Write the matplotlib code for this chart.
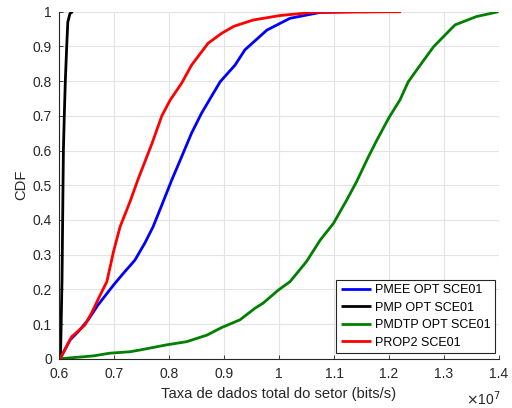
import numpy as np
import matplotlib
matplotlib.use('Agg')
import matplotlib.pyplot as plt

# Sector data rate in units of 1e7 bits/s, and CDF values
pmee_x = [0.602, 0.620, 0.635, 0.653, 0.671, 0.699, 0.717, 0.738, 0.756, 0.771,
          0.787, 0.805, 0.823, 0.841, 0.859, 0.875, 0.893, 0.920, 0.938, 0.978,
          1.020, 1.075, 1.132]
pmee_y = [0.0, 0.054, 0.078, 0.112, 0.155, 0.212, 0.246, 0.284, 0.333, 0.380,
          0.443, 0.515, 0.582, 0.650, 0.707, 0.750, 0.798, 0.846, 0.890, 0.947,
          0.981, 0.998, 1.0]

pmp_x = [0.6027, 0.6055, 0.6073, 0.6080, 0.6096, 0.6115, 0.6140, 0.6160,
         0.6200, 0.6250]
pmp_y = [0.0, 0.23, 0.50, 0.60, 0.70, 0.80, 0.90, 0.97, 0.995, 1.0]

pmdtp_x = [0.602, 0.662, 0.693, 0.729, 0.747, 0.796, 0.832, 0.869, 0.896, 0.929,
           0.956, 0.971, 0.999, 1.020, 1.050, 1.075, 1.099, 1.123, 1.141, 1.162,
           1.178, 1.200, 1.220, 1.235, 1.259, 1.281, 1.320, 1.359, 1.399]
pmdtp_y = [0.0, 0.008, 0.016, 0.020, 0.025, 0.040, 0.049, 0.068, 0.090, 0.112,
           0.145, 0.160, 0.198, 0.222, 0.280, 0.342, 0.390, 0.457, 0.510, 0.580,
           0.630, 0.695, 0.746, 0.798, 0.851, 0.899, 0.962, 0.986, 1.0]

prop2_x = [0.602, 0.623, 0.647, 0.659, 0.675, 0.687, 0.699, 0.711, 0.729, 0.744,
           0.769, 0.787, 0.802, 0.823, 0.841, 0.871, 0.896, 0.918, 0.953, 1.002,
           1.062, 1.222]
prop2_y = [0.0, 0.063, 0.097, 0.131, 0.184, 0.222, 0.308, 0.380, 0.452, 0.518,
           0.620, 0.700, 0.745, 0.794, 0.846, 0.909, 0.938, 0.958, 0.976, 0.989,
           0.998, 1.0]

series = [
    ('PMEE OPT SCE01', pmee_x, pmee_y, (0, 0, 1)),
    ('PMP OPT SCE01', pmp_x, pmp_y, (0, 0, 0)),
    ('PMDTP OPT SCE01', pmdtp_x, pmdtp_y, (0, 0.5, 0)),
    ('PROP2 SCE01', prop2_x, prop2_y, (1, 0, 0)),
]

xticks = [0.6, 0.7, 0.8, 0.9, 1.0, 1.1, 1.2, 1.3, 1.4]
xticklabels = ['0.6', '0.7', '0.8', '0.9', '1', '1.1', '1.2', '1.3', '1.4']
yticks = [0, 0.1, 0.2, 0.3, 0.4, 0.5, 0.6, 0.7, 0.8, 0.9, 1]
yticklabels = ['0', '0.1', '0.2', '0.3', '0.4', '0.5', '0.6', '0.7', '0.8', '0.9', '1']

plt.rcParams['font.family'] = ['Liberation Sans', 'DejaVu Sans']
dark = '#262626'

fig = plt.figure(figsize=(5.12, 4.08), dpi=100)
ax = fig.add_axes([59 / 512, (408 - 358.7) / 408, 440 / 512, 347 / 408])

for label, x, y, c in series:
    ax.plot(x, y, color=c, linewidth=2.0, label=label, solid_capstyle='butt')

ax.set_xlim(0.6, 1.4)
ax.set_ylim(0, 1)
ax.set_xticks(xticks)
ax.set_xticklabels(xticklabels)
ax.set_yticks(yticks)
ax.set_yticklabels(yticklabels)

ax.grid(True, color='#e3e3e3', linewidth=0.8)
ax.set_axisbelow(True)
for side in ['top', 'right']:
    ax.spines[side].set_visible(False)
for side in ['left', 'bottom']:
    ax.spines[side].set_color(dark)
    ax.spines[side].set_linewidth(0.8)
ax.tick_params(direction='in', length=3, width=0.6, colors=dark,
               labelsize=10, labelcolor=dark)
ax.tick_params(axis='x', pad=6)
ax.tick_params(axis='y', pad=5)

ax.set_xlabel('Taxa de dados total do setor (bits/s)', fontsize=10.6,
              color=dark, labelpad=4)
ax.set_ylabel('CDF', fontsize=10.6, color=dark, labelpad=3)

fig.text(501 / 512, 1 - 405 / 408, r'$\times$10$^{7}$', ha='right',
         va='baseline', fontsize=10, color=dark)

leg = ax.legend(loc='lower right', bbox_to_anchor=(0.991, 0.016),
                borderaxespad=0, fontsize=9, handlelength=2.4,
                handletextpad=0.35, borderpad=0.35, labelspacing=0.45,
                fancybox=False, framealpha=1)
leg.get_frame().set_edgecolor(dark)
leg.get_frame().set_linewidth(0.8)

fig.savefig('out.png', dpi=100)
